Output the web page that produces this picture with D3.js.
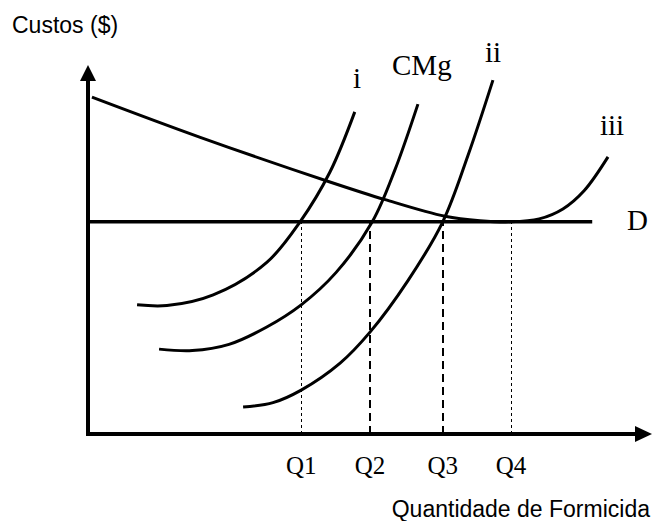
<!DOCTYPE html>
<html>
<head>
<meta charset="utf-8">
<script src="https://cdn.jsdelivr.net/npm/d3@7"></script>
<style>
  body { margin: 0; background: #fff; }
  .sans { font-family: "Liberation Sans", Arial, sans-serif; font-size: 23px; }
  .serif { font-family: "Liberation Serif", "Times New Roman", serif; }
</style>
</head>
<body>
<div id="chart"></div>
<script>
// curve points, in chart units (quantity 0-100, cost 0-100)
var curveI_x = [8.7, 14.0, 22.2, 31.7, 37.6, 42.9, 47.3];
var curveI_y = [35.0, 34.8, 37.7, 46.5, 57.5, 71.0, 87.3];

var cmg_x = [12.6, 18.5, 25.0, 31.7, 37.8, 44.0, 50.4, 54.4, 58.5];
var cmg_y = [23.0, 22.6, 24.3, 29.0, 35.0, 43.8, 57.5, 71.5, 89.4];

var curveII_x = [27.5, 32.8, 37.8, 44.7, 50.0, 56.7, 62.9, 67.4, 71.8];
var curveII_y = [7.3, 8.5, 11.9, 19.2, 27.6, 41.5, 57.5, 75.6, 95.9];

var curveIII_x = [0.7, 19.9, 42.9, 52.7, 63.3, 69.5, 75.0, 80.0, 84.2, 88.0, 92.2];
var curveIII_y = [91.3, 80.4, 68.3, 63.5, 59.0, 57.8, 57.5, 58.3, 61.0, 66.0, 75.1];

var demandLevel = 57.5;
var demandEnd = 89.4;

var qLabels = ["Q1", "Q2", "Q3", "Q4"];
var qValues = [37.8, 50.0, 62.9, 75.0];

var width = 661, height = 521;

var svg = d3.select("#chart").append("svg")
    .attr("width", width)
    .attr("height", height);

var x = d3.scaleLinear().domain([0, 100]).range([88, 652]);
var y = d3.scaleLinear().domain([0, 100]).range([434, 65]);

var line = d3.line()
    .x(function (d) { return x(d[0]); })
    .y(function (d) { return y(d[1]); })
    .curve(d3.curveCatmullRom.alpha(0.5));

function zip(xs, ys) {
    return xs.map(function (v, i) { return [v, ys[i]]; });
}

// dashed guides from the axis up to D
function thick(i) { return i === 1 || i === 2; }
svg.selectAll(".guide")
    .data(qValues)
    .enter().append("line")
    .attr("class", "guide")
    .attr("x1", function (d, i) { return thick(i) ? Math.round(x(d)) : Math.round(x(d)) + 0.5; })
    .attr("x2", function (d, i) { return thick(i) ? Math.round(x(d)) : Math.round(x(d)) + 0.5; })
    .attr("y1", y(0))
    .attr("y2", y(demandLevel))
    .attr("stroke", "#000")
    .attr("stroke-width", function (d, i) { return thick(i) ? 2 : 1; })
    .attr("stroke-dasharray", function (d, i) { return thick(i) ? "8,5" : "3,3"; });

// demand line
svg.append("line")
    .attr("x1", x(0)).attr("x2", x(demandEnd))
    .attr("y1", y(demandLevel)).attr("y2", y(demandLevel))
    .attr("stroke", "#000")
    .attr("stroke-width", 3.5);

// cost curves
var curves = [
    zip(curveI_x, curveI_y),
    zip(cmg_x, cmg_y),
    zip(curveII_x, curveII_y),
    zip(curveIII_x, curveIII_y)
];
svg.selectAll(".curve")
    .data(curves)
    .enter().append("path")
    .attr("class", "curve")
    .attr("d", line)
    .attr("fill", "none")
    .attr("stroke", "#000")
    .attr("stroke-width", 3);

// axes with arrow heads
svg.append("line")
    .attr("x1", x(0)).attr("x2", x(0))
    .attr("y1", y(0) + 2).attr("y2", y(100) + 14)
    .attr("stroke", "#000").attr("stroke-width", 4);
svg.append("line")
    .attr("x1", x(0) - 2).attr("x2", x(100) - 14)
    .attr("y1", y(0)).attr("y2", y(0))
    .attr("stroke", "#000").attr("stroke-width", 4);
svg.append("path")
    .attr("d", "M" + x(0) + "," + y(100) + "l-8,16h16z")
    .attr("fill", "#000");
svg.append("path")
    .attr("d", "M" + x(100) + "," + y(0) + "l-17,-8v16z")
    .attr("fill", "#000");

// Q labels
svg.selectAll(".qlabel")
    .data(qLabels)
    .enter().append("text")
    .attr("class", "serif qlabel")
    .attr("x", function (d, i) { return x(qValues[i]); })
    .attr("y", 474)
    .attr("text-anchor", "middle")
    .style("font-size", "25px")
    .text(function (d) { return d; });

// curve labels
var curveLabels = [
    { t: "i", x: 353, y: 88 },
    { t: "CMg", x: 392, y: 75 },
    { t: "ii", x: 485, y: 62 },
    { t: "iii", x: 600, y: 135 },
    { t: "D", x: 627, y: 230 }
];
svg.selectAll(".clabel")
    .data(curveLabels)
    .enter().append("text")
    .attr("class", "serif clabel")
    .attr("x", function (d) { return d.x; })
    .attr("y", function (d) { return d.y; })
    .style("font-size", "29px")
    .text(function (d) { return d.t; });

// axis titles
svg.append("text")
    .attr("class", "sans")
    .attr("x", 12).attr("y", 33)
    .text("Custos ($)");
svg.append("text")
    .attr("class", "sans")
    .attr("x", 650).attr("y", 517)
    .attr("text-anchor", "end")
    .text("Quantidade de Formicida");
</script>
</body>
</html>
